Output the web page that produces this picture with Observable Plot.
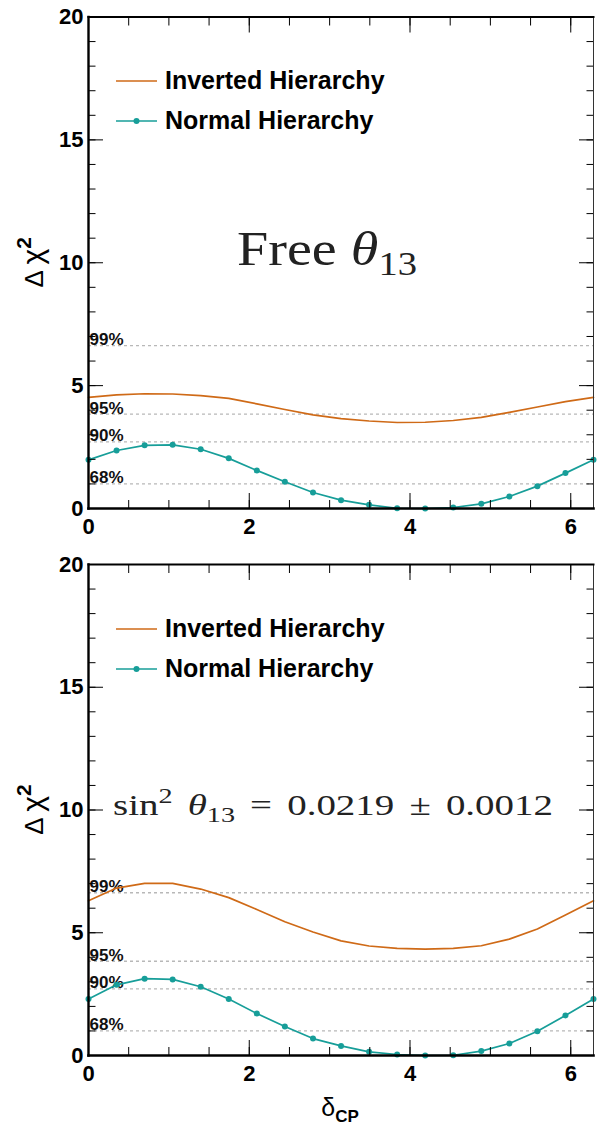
<!DOCTYPE html>
<html><head><meta charset="utf-8">
<script src="https://cdn.jsdelivr.net/npm/d3@7"></script>
<script src="https://cdn.jsdelivr.net/npm/@observablehq/plot@0.6"></script>
<style>
html,body{margin:0;padding:0;background:#fff;}
#chart{width:607px;position:relative;}
#chart svg{display:block;}
</style></head><body><div id="chart"></div>
<script>
// ---- data ----
const deltaCP = [0, 0.349, 0.698, 1.047, 1.396, 1.745, 2.094, 2.443, 2.793, 3.142,
                 3.491, 3.840, 4.189, 4.538, 4.887, 5.236, 5.585, 5.934, 6.283];
const ihFree  = [4.52, 4.62, 4.67, 4.66, 4.59, 4.48, 4.26, 4.03, 3.81, 3.66,
                 3.56, 3.50, 3.51, 3.58, 3.71, 3.91, 4.13, 4.35, 4.52];
const nhFree  = [1.98, 2.36, 2.57, 2.59, 2.41, 2.04, 1.55, 1.09, 0.65, 0.34,
                 0.15, 0.01, 0.00, 0.04, 0.19, 0.49, 0.91, 1.44, 1.98];
const ihFixed = [6.30, 6.82, 7.01, 7.01, 6.78, 6.43, 5.95, 5.45, 5.03, 4.67,
                 4.46, 4.36, 4.33, 4.36, 4.47, 4.74, 5.15, 5.72, 6.30];
const nhFixed = [2.30, 2.88, 3.13, 3.10, 2.80, 2.30, 1.71, 1.18, 0.69, 0.39,
                 0.15, 0.04, 0.00, 0.01, 0.18, 0.49, 0.99, 1.63, 2.30];
const clLevels = [1.00, 2.71, 3.84, 6.63];
const clLabels = ["68%", "90%", "95%", "99%"];
const xMajorTicks = [0, 2, 4, 6];
const xMinorTicks = [0, 0.5, 1, 1.5, 2, 2.5, 3, 3.5, 4, 4.5, 5, 5.5, 6];
const yMajorTicks = [0, 5, 10, 15, 20];
const yMinorTicks = [0,1,2,3,4,5,6,7,8,9,10,11,12,13,14,15,16,17,18,19,20];
const xDomain = [0, 6.283];
const yDomain = [0, 20];
const seriesNames = ["Inverted Hierarchy", "Normal Hierarchy"];

const ORANGE = "#cf6a17";
const TEAL = "#179e99";
const SANS = "'Liberation Sans', Arial, Helvetica, sans-serif";
const SERIF = "'Liberation Serif', 'Times New Roman', serif";

function axisMarks() {
  const noText = () => "";
  return [
    Plot.axisX(xMinorTicks, {anchor: "bottom", tickSize: -8, tickFormat: noText, label: null}),
    Plot.axisX(xMajorTicks, {anchor: "bottom", tickSize: -15, tickFormat: noText, label: null}),
    Plot.axisX(xMinorTicks, {anchor: "top", tickSize: -8, tickFormat: noText, label: null}),
    Plot.axisX(xMajorTicks, {anchor: "top", tickSize: -15, tickFormat: noText, label: null}),
    Plot.axisX(xMajorTicks, {anchor: "bottom", tickSize: 0, tickPadding: 10, fontSize: 22, fontWeight: "bold", label: null}),
    Plot.axisY(yMinorTicks, {anchor: "left", tickSize: -7.5, tickFormat: noText, label: null}),
    Plot.axisY(yMajorTicks, {anchor: "left", tickSize: -15, tickFormat: noText, label: null}),
    Plot.axisY(yMinorTicks, {anchor: "right", tickSize: -7.5, tickFormat: noText, label: null}),
    Plot.axisY(yMajorTicks, {anchor: "right", tickSize: -15, tickFormat: noText, label: null}),
    Plot.axisY(yMajorTicks, {anchor: "left", tickSize: 0, tickPadding: 5, fontSize: 22, fontWeight: "bold", label: null})
  ];
}

function panel({ih, nh, height, marginTop, marginBottom, annotate, xTitle}) {
  const ihData = deltaCP.map((x, i) => ({x, y: ih[i]}));
  const nhData = deltaCP.map((x, i) => ({x, y: nh[i]}));
  const levels = clLevels.map((v, i) => ({v, label: clLabels[i]}));
  const svg = Plot.plot({
    width: 607, height,
    marginLeft: 88, marginRight: 14, marginTop, marginBottom,
    style: {fontFamily: SANS, background: "white", color: "black", overflow: "visible"},
    x: {domain: xDomain},
    y: {domain: yDomain},
    marks: [
      Plot.ruleY(levels, {y: "v", stroke: "#b8b8b8", strokeWidth: 1.3, strokeDasharray: "3,3"}),
      Plot.text(levels, {y: "v", text: "label", frameAnchor: "left", textAnchor: "start", lineAnchor: "bottom", dx: 1, dy: -0.5, fontSize: 17, fontWeight: "bold", fill: "#111"}),
      Plot.line(ihData, {x: "x", y: "y", stroke: ORANGE, strokeWidth: 1.7}),
      Plot.line(nhData, {x: "x", y: "y", stroke: TEAL, strokeWidth: 1.7}),
      Plot.dot(nhData, {x: "x", y: "y", r: 3, fill: TEAL, stroke: "none"}),
      ...axisMarks(),
      Plot.frame({stroke: "#333", strokeWidth: 1}),
      Plot.frame({anchor: "left", stroke: "black", strokeWidth: 2.4}),
      Plot.frame({anchor: "bottom", stroke: "black", strokeWidth: 2.6}),
      Plot.frame({anchor: "top", stroke: "black", strokeWidth: 2})
    ]
  });
  const s = d3.select(svg);
  const innerMid = (marginTop + height - marginBottom) / 2;
  // y axis title
  const yt = s.append("text").attr("transform", `translate(43,${innerMid}) rotate(-90)`)
    .attr("text-anchor", "middle").attr("font-family", SANS).attr("fill", "black");
  yt.append("tspan").attr("font-size", 26).text("Δ ");
  yt.append("tspan").attr("font-size", 30).text("χ");
  yt.append("tspan").attr("font-size", 21).attr("font-weight", "bold").attr("dy", -12).text("2");
  // legend
  const lg = s.append("g").attr("font-family", SANS).attr("font-size", 25).attr("font-weight", "bold")
    .attr("fill", "black").attr("text-anchor", "start");
  const legendItems = [
    {name: seriesNames[0], color: ORANGE, dot: false, y: 81},
    {name: seriesNames[1], color: TEAL, dot: true, y: 121}
  ];
  for (const it of legendItems) {
    lg.append("line").attr("x1", 116).attr("x2", 157).attr("y1", it.y).attr("y2", it.y)
      .attr("stroke", it.color).attr("stroke-width", 1.7);
    if (it.dot) lg.append("circle").attr("cx", 136.5).attr("cy", it.y).attr("r", 3).attr("fill", it.color);
    lg.append("text").attr("x", 165).attr("y", it.y + 7.5).attr("text-anchor", "start").text(it.name);
  }
  annotate(s);
  if (xTitle) {
    const t = s.append("text").attr("x", 340).attr("y", height - 19)
      .attr("text-anchor", "middle").attr("font-family", SANS).attr("fill", "black");
    t.append("tspan").attr("font-size", 25).text("δ");
    t.append("tspan").attr("font-size", 17).attr("font-weight", "bold").attr("dy", 6).text("CP");
  }
  return svg;
}

const chart = document.getElementById("chart");

chart.appendChild(panel({
  ih: ihFree, nh: nhFree, height: 548, marginTop: 16.5, marginBottom: 40,
  annotate: (s) => {
    const t = s.append("text").attr("x", 237).attr("y", 265).attr("font-family", SERIF)
      .attr("text-anchor", "start").attr("font-size", 48).attr("fill", "#222")
      .attr("textLength", 180).attr("lengthAdjust", "spacingAndGlyphs");
    t.append("tspan").text("Free ");
    t.append("tspan").attr("font-style", "italic").text("θ");
    t.append("tspan").attr("font-size", 33).attr("dy", 10).text("13");
  }
}));

chart.appendChild(panel({
  ih: ihFixed, nh: nhFixed, height: 587, marginTop: 16, marginBottom: 80, xTitle: true,
  annotate: (s) => {
    const t = s.append("text").attr("x", 113).attr("y", 267).attr("font-family", SERIF)
      .attr("text-anchor", "start").attr("font-size", 29).attr("fill", "#222")
      .attr("word-spacing", 4)
      .attr("textLength", 440).attr("lengthAdjust", "spacingAndGlyphs");
    t.append("tspan").text("sin");
    t.append("tspan").attr("font-size", 21).attr("dy", -12).text("2");
    t.append("tspan").attr("dy", 12).attr("font-style", "italic").text(" θ");
    t.append("tspan").attr("font-size", 21).attr("dy", 7).text("13");
    t.append("tspan").attr("dy", -7).text(" = 0.0219 ± 0.0012");
  }
}));
</script></body></html>
